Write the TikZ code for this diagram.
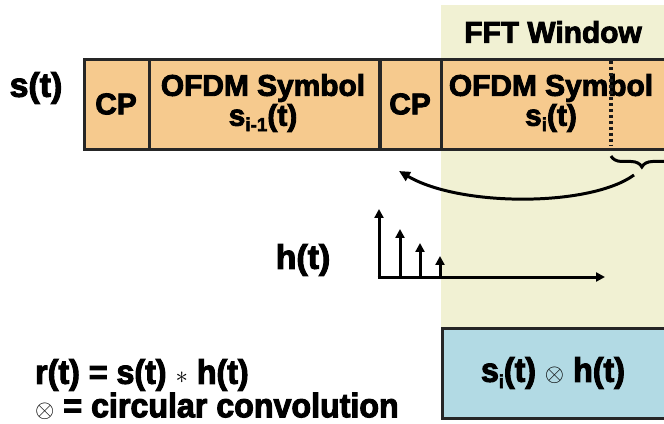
\documentclass[tikz,border=0pt]{standalone}
\usepackage{fontspec}
\setmainfont{Liberation Sans}[BoldFeatures={FakeBold=3}]
\newfontfamily\narrowfont{Liberation Sans}[FakeStretch=0.95,BoldFeatures={FakeBold=3}]
\usetikzlibrary{arrows.meta,decorations.pathreplacing}
\definecolor{cellorange}{RGB}{246,202,142}
\definecolor{fftyellow}{RGB}{241,241,211}
\definecolor{resultblue}{RGB}{178,218,228}
\newcommand{\lowsub}[1]{\raisebox{-0.35ex}{\fontsize{19}{19}\selectfont #1}}
\tikzset{
  cell/.style={draw=black!85, line width=3pt, fill=cellorange, inner sep=0pt, minimum height=90},
  big/.style={font=\fontsize{30}{32}\selectfont\bfseries, inner sep=0pt, align=center},
  label/.style={font=\fontsize{34}{36}\selectfont\bfseries, inner sep=0pt},
  plain/.style={font=\narrowfont\fontsize{34}{36}\selectfont\bfseries, inner sep=0pt},
  axis/.style={line width=3pt, -{Triangle[length=9pt,width=9pt]}},
  pulse/.style={line width=3pt, -{Triangle[length=9pt,width=9pt]}},
}
\begin{document}
\begin{tikzpicture}[x=1bp,y=-1bp]
\useasboundingbox (0,0) rectangle (664,423);
\clip (0,0) rectangle (664,423);
\fill[white] (0,0) rectangle (664,423);
% FFT window region
\fill[fftyellow] (441,5) rectangle (670,330);
\node[big] (fft) at (553,32) {FFT Window};
% transmitted symbol stream
\node[label] (st) at (36,88) {s(t)};
\node[cell, minimum width=65, anchor=north west] (cp1) at (83,58) {};
\node[cell, minimum width=231, anchor=north west] (sym1) at (148,58) {};
\node[cell, minimum width=61, anchor=north west] (cp2) at (379,58) {};
\node[cell, minimum width=240, anchor=north west] (sym2) at (440,58) {};
\node[big] (cp1t) at (116,104) {CP};
\node[big] (cp2t) at (410,104) {CP};
\node[big] (sym1t) at (263,103) {OFDM Symbol\\[-2pt]s\lowsub{i-1}(t)};
\node[big] (sym2t) at (551,103) {OFDM Symbol\\[-2pt]s\lowsub{i}(t)};
\coordinate (dtop) at (611,61);
\coordinate (dbot) at (611,146);
\draw[line width=3.2pt, dash pattern=on 3pt off 3pt, black!90] (dtop) -- (dbot);
% tail of the symbol copied into the cyclic prefix
\coordinate (bl) at (611,156);
\coordinate (br) at (674,156);
\draw[line width=3pt, decorate, decoration={brace, mirror, amplitude=11pt, aspect=0.49}] (bl) -- (br);
\coordinate (cs) at (634,175);
\coordinate (ce) at (399,171);
\draw[line width=3pt, -{Triangle[length=11pt,width=10pt]}] (cs) .. controls (590,207) and (460,207) .. (ce);
% channel impulse response
\node[label] (ht) at (303,260) {h(t)};
\coordinate (o) at (379,277);
\coordinate (ytop) at (379,209);
\coordinate (xend) at (605,277);
\draw[axis] (o) -- (ytop);
\draw[axis] ([xshift=-1.5]o) -- (xend);
\coordinate (p1) at (400,277);
\coordinate (p1t) at (400,229);
\coordinate (p2) at (420,277);
\coordinate (p2t) at (420,243);
\coordinate (p3) at (440,277);
\coordinate (p3t) at (440,256);
\draw[pulse] (p1) -- (p1t);
\draw[pulse] (p2) -- (p2t);
\draw[pulse] (p3) -- (p3t);
% result of the FFT window
\node[draw=black!85, line width=3pt, fill=resultblue, minimum width=240, minimum height=90, anchor=north west, inner sep=0pt] (res) at (441,327) {};
\node[plain] (rest) at (553,373) {s\lowsub{i}(t) $\otimes$ h(t)};
% legend
\node[plain, anchor=west] (eq1) at (35,375) {r(t) = s(t) $\ast$ h(t)};
\node[plain, anchor=west] (eq2) at (35,406) {$\otimes$ = circular convolution};
\end{tikzpicture}
\end{document}
